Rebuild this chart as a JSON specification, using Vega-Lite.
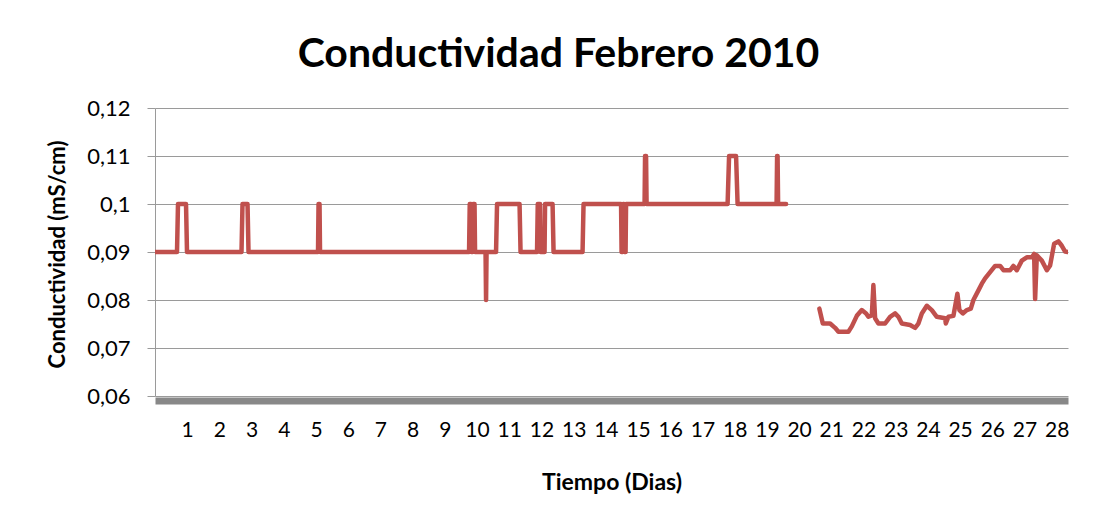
{
  "$schema": "https://vega.github.io/schema/vega-lite/v6.json",
  "width": 913,
  "height": 288,
  "autosize": {"type": "none"},
  "padding": {"left": 155, "top": 108, "right": 32, "bottom": 119},
  "background": "white",
  "config": {
    "view": {"stroke": null},
    "font": "Lato",
    "axis": {"labelFont": "Lato", "titleFont": "Lato", "labelColor": "#000000", "titleColor": "#000000"}
  },
  "title": {
    "text": "Conductividad Febrero 2010",
    "font": "Lato",
    "fontSize": 41,
    "fontWeight": "bold",
    "color": "#000000",
    "anchor": "middle",
    "dx": -53,
    "offset": 21
  },
  "data": {
    "values": [
      {"d":0,"v":0.09,"s":1},{"d":0.683,"v":0.09,"s":1},{"d":0.714,"v":0.10,"s":1},{"d":0.963,"v":0.10,"s":1},{"d":0.994,"v":0.09,"s":1},
      {"d":2.686,"v":0.09,"s":1},{"d":2.717,"v":0.10,"s":1},{"d":2.873,"v":0.10,"s":1},{"d":2.904,"v":0.09,"s":1},
      {"d":5.062,"v":0.09,"s":1},{"d":5.078,"v":0.10,"s":1},{"d":5.109,"v":0.10,"s":1},{"d":5.124,"v":0.09,"s":1},
      {"d":9.752,"v":0.09,"s":1},{"d":9.773,"v":0.10,"s":1},{"d":9.814,"v":0.10,"s":1},{"d":9.829,"v":0.09,"s":1},
      {"d":9.860,"v":0.09,"s":1},{"d":9.876,"v":0.10,"s":1},{"d":9.922,"v":0.10,"s":1},{"d":9.938,"v":0.09,"s":1},
      {"d":10.264,"v":0.09,"s":1},{"d":10.280,"v":0.08,"s":1},{"d":10.295,"v":0.09,"s":1},
      {"d":10.590,"v":0.09,"s":1},{"d":10.621,"v":0.10,"s":1},{"d":11.320,"v":0.10,"s":1},{"d":11.351,"v":0.09,"s":1},
      {"d":11.863,"v":0.09,"s":1},{"d":11.885,"v":0.10,"s":1},{"d":11.957,"v":0.10,"s":1},{"d":11.972,"v":0.09,"s":1},
      {"d":12.096,"v":0.09,"s":1},{"d":12.112,"v":0.10,"s":1},{"d":12.345,"v":0.10,"s":1},{"d":12.376,"v":0.09,"s":1},
      {"d":13.276,"v":0.09,"s":1},{"d":13.307,"v":0.10,"s":1},{"d":14.472,"v":0.10,"s":1},{"d":14.488,"v":0.09,"s":1},
      {"d":14.519,"v":0.09,"s":1},{"d":14.534,"v":0.10,"s":1},{"d":14.565,"v":0.10,"s":1},{"d":14.581,"v":0.09,"s":1},
      {"d":14.612,"v":0.09,"s":1},{"d":14.627,"v":0.10,"s":1},{"d":15.202,"v":0.10,"s":1},{"d":15.217,"v":0.11,"s":1},
      {"d":15.248,"v":0.11,"s":1},{"d":15.264,"v":0.10,"s":1},{"d":17.780,"v":0.10,"s":1},{"d":17.826,"v":0.11,"s":1},
      {"d":18.043,"v":0.11,"s":1},{"d":18.090,"v":0.10,"s":1},{"d":19.301,"v":0.10,"s":1},{"d":19.317,"v":0.11,"s":1},
      {"d":19.332,"v":0.11,"s":1},{"d":19.348,"v":0.10,"s":1},{"d":19.596,"v":0.10,"s":1},
      {"d":20.630,"v":0.0782,"s":2},{"d":20.736,"v":0.0751,"s":2},{"d":20.963,"v":0.0751,"s":2},{"d":21.118,"v":0.0742,"s":2},
      {"d":21.221,"v":0.0734,"s":2},{"d":21.531,"v":0.0734,"s":2},{"d":21.637,"v":0.0745,"s":2},{"d":21.792,"v":0.0767,"s":2},
      {"d":21.947,"v":0.0779,"s":2},{"d":22.081,"v":0.0772,"s":2},{"d":22.152,"v":0.0765,"s":2},{"d":22.258,"v":0.0768,"s":2},
      {"d":22.307,"v":0.0831,"s":2},{"d":22.360,"v":0.0762,"s":2},{"d":22.463,"v":0.0751,"s":2},{"d":22.671,"v":0.0751,"s":2},
      {"d":22.826,"v":0.0765,"s":2},{"d":22.981,"v":0.0772,"s":2},{"d":23.084,"v":0.0765,"s":2},{"d":23.189,"v":0.0751,"s":2},
      {"d":23.447,"v":0.0748,"s":2},{"d":23.602,"v":0.0742,"s":2},{"d":23.705,"v":0.0751,"s":2},{"d":23.811,"v":0.0772,"s":2},
      {"d":23.966,"v":0.0788,"s":2},{"d":24.121,"v":0.0779,"s":2},{"d":24.276,"v":0.0765,"s":2},{"d":24.534,"v":0.0762,"s":2},
      {"d":24.556,"v":0.0751,"s":2},{"d":24.637,"v":0.0765,"s":2},{"d":24.792,"v":0.0767,"s":2},{"d":24.916,"v":0.0813,"s":2},
      {"d":24.978,"v":0.0779,"s":2},{"d":25.084,"v":0.0772,"s":2},{"d":25.208,"v":0.0779,"s":2},{"d":25.332,"v":0.0782,"s":2},
      {"d":25.413,"v":0.0800,"s":2},{"d":25.568,"v":0.0820,"s":2},{"d":25.674,"v":0.0834,"s":2},{"d":25.776,"v":0.0845,"s":2},
      {"d":25.932,"v":0.0858,"s":2},{"d":26.087,"v":0.0871,"s":2},{"d":26.242,"v":0.0871,"s":2},{"d":26.345,"v":0.0862,"s":2},
      {"d":26.553,"v":0.0862,"s":2},{"d":26.655,"v":0.0871,"s":2},{"d":26.761,"v":0.0862,"s":2},{"d":26.916,"v":0.0882,"s":2},
      {"d":27.071,"v":0.0889,"s":2},{"d":27.227,"v":0.0889,"s":2},{"d":27.298,"v":0.0896,"s":2},{"d":27.329,"v":0.0802,"s":2},
      {"d":27.382,"v":0.0893,"s":2},{"d":27.537,"v":0.0882,"s":2},{"d":27.693,"v":0.0862,"s":2},{"d":27.795,"v":0.0872,"s":2},
      {"d":27.919,"v":0.0917,"s":2},{"d":28.053,"v":0.0922,"s":2},{"d":28.158,"v":0.0913,"s":2},{"d":28.261,"v":0.0901,"s":2},
      {"d":28.340,"v":0.0900,"s":2}
    ]
  },
  "mark": {"type": "line", "color": "#C0504D", "strokeWidth": 4.5, "strokeJoin": "round", "strokeCap": "round", "clip": true},
  "encoding": {
    "x": {
      "field": "d", "type": "quantitative",
      "scale": {"domain": [0, 28.35], "nice": false, "zero": false},
      "axis": {
        "title": "Tiempo (Dias)",
        "titleFontSize": 23, "titleFontWeight": "bold",
        "titleBaseline": "middle", "titleY": 82,
        "values": [1,2,3,4,5,6,7,8,9,10,11,12,13,14,15,16,17,18,19,20,21,22,23,24,25,26,27,28],
        "labelFontSize": 21, "labelBaseline": "middle", "labelPadding": 30, "labelFlush": false, "labelOverlap": false,
        "ticks": false, "tickSize": 0, "grid": false,
        "domainColor": "#888888", "domainWidth": 7, "offset": 4.5
      }
    },
    "y": {
      "field": "v", "type": "quantitative",
      "scale": {"domain": [0.06, 0.12], "nice": false, "zero": false},
      "axis": {
        "title": "Conductividad (mS/cm)",
        "titleFontSize": 22, "titleFontWeight": "bold",
        "titleAngle": 270, "titleAlign": "center", "titleBaseline": "middle",
        "titleX": -98, "titleY": 146,
        "values": [0.06, 0.07, 0.08, 0.09, 0.1, 0.11, 0.12],
        "labelExpr": "replace(format(datum.value, '.2~f'), '.', ',')",
        "labelFontSize": 22, "labelPadding": 17, "labelBaseline": "middle",
        "tickSize": 8, "tickColor": "#9A9A9A",
        "grid": true, "gridColor": "#9A9A9A", "gridWidth": 1,
        "domainColor": "#9A9A9A", "domainWidth": 1
      }
    },
    "detail": {"field": "s", "type": "nominal"}
  }
}
